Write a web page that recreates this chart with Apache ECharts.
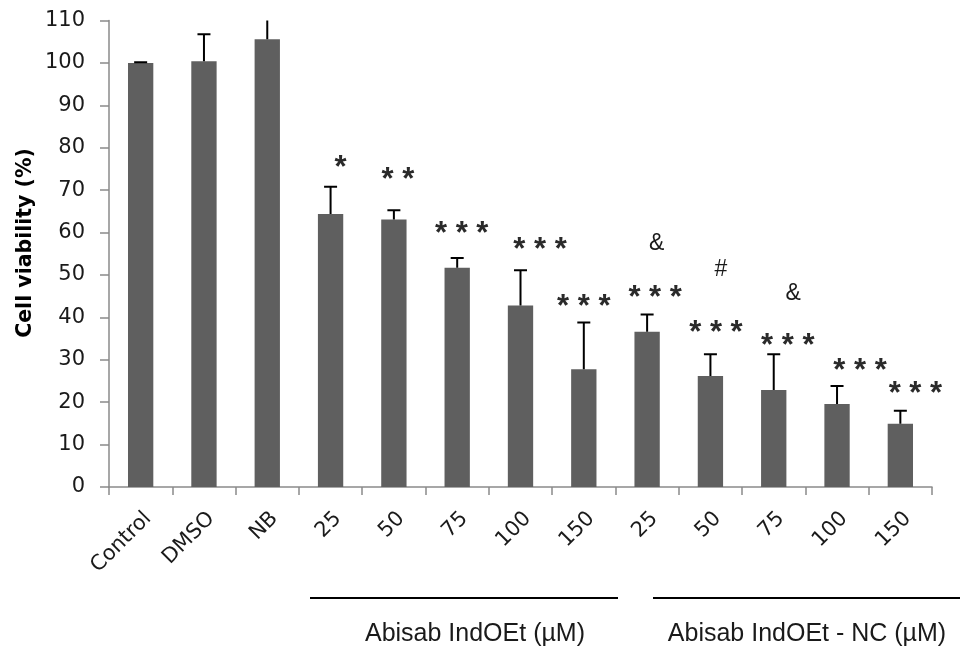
<!DOCTYPE html>
<html>
<head>
<meta charset="utf-8">
<script src="https://cdn.jsdelivr.net/npm/echarts@6/dist/echarts.min.js"></script>
<style>
  html, body { margin: 0; padding: 0; background: #ffffff; }
  #chart { width: 960px; height: 653px; }
</style>
</head>
<body>
<div id="chart"></div>
<script>
// ---- data ----
const categories = ['Control', 'DMSO', 'NB', '25', '50', '75', '100', '150', '25', '50', '75', '100', '150'];
const viability = [100, 100.4, 105.6, 64.4, 63.1, 51.7, 42.8, 27.8, 36.6, 26.2, 22.9, 19.6, 14.9];
const viabilitySD = [0.2, 6.4, 4.8, 6.4, 2.2, 2.3, 8.3, 11.0, 4.1, 5.1, 8.4, 4.2, 3.1];
const yMin = 0;
const yMax = 110;
const yStep = 10;

// significance marks above each bar and the level (in %) they sit at
const starMarks = ['', '', '', '*', '* *', '* * *', '* * *', '* * *', '* * *', '* * *', '* * *', '* * *', '* * *'];
const starLevel = [null, null, null, 77.0, 74.1, 61.4, 57.6, 44.3, 46.3, 38.2, 35.1, 29.2, 23.7];
const extraMarks = ['', '', '', '', '', '', '', '', '&', '#', '&', '', ''];
const extraLevel = [null, null, null, null, null, null, null, null, 57.5, 51.2, 45.7, null, null];

const yAxisTitle = 'Cell viability (%)';
const groupTitles = ['Abisab IndOEt (\u00b5M)', 'Abisab IndOEt - NC (\u00b5M)'];

// ---- layout ----
const starShift = [0, 0, 0, 10, 4, 4.5, 19.5, 0, 8, 5.5, 14, 23, 15];
const extraShift = [0, 0, 0, 0, 0, 0, 0, 0, 9.5, 10.5, 19.5, 0, 0];
const axisGray = '#8a8a8a';
const barGray = '#5f5f5f';
const textDark = '#1a1a1a';

const chart = echarts.init(document.getElementById('chart'), null, { renderer: 'canvas' });

const barData = viability.map((v, i) => [i, v]);
const errData = viability.map((v, i) => [i, v, viabilitySD[i]]);
const noteData = [];
categories.forEach((c, i) => {
  if (starMarks[i]) noteData.push([i, starLevel[i], starMarks[i], starShift[i], 'star']);
  if (extraMarks[i]) noteData.push([i, extraLevel[i], extraMarks[i], extraShift[i], 'sym']);
});

chart.setOption({
  animation: false,
  backgroundColor: '#ffffff',
  grid: { left: 109, right: 28, top: 20.6, bottom: 166, containLabel: false, outerBoundsMode: 'none' },
  xAxis: {
    type: 'category',
    data: categories,
    boundaryGap: true,
    axisLine: { show: true, lineStyle: { color: axisGray, width: 1.5 } },
    axisTick: { show: true, alignWithLabel: false, length: 8, inside: false, lineStyle: { color: axisGray, width: 1.5 } },
    axisLabel: {
      interval: 0, rotate: 45, margin: 21,
      align: 'right', verticalAlign: 'top',
      fontFamily: 'DejaVu Sans', fontSize: 21, color: textDark
    },
    splitLine: { show: false }
  },
  yAxis: {
    type: 'value',
    min: yMin, max: yMax, interval: yStep,
    axisLine: { show: true, lineStyle: { color: axisGray, width: 1.5 } },
    axisTick: { show: true, length: 9, inside: false, lineStyle: { color: axisGray, width: 1.5 } },
    axisLabel: { margin: 24, fontFamily: 'DejaVu Sans', fontSize: 21, color: textDark },
    splitLine: { show: false }
  },
  series: [
    {
      type: 'bar',
      data: barData,
      barWidth: '40%',
      itemStyle: { color: barGray },
      z: 2
    },
    {
      type: 'custom',
      data: errData,
      clip: true,
      z: 3,
      renderItem(params, api) {
        const x = api.value(0);
        const v = api.value(1);
        const e = api.value(2);
        const top = api.coord([x, v + e]);
        const base = api.coord([x, v]);
        const half = 6.5;
        return {
          type: 'group',
          children: [
            { type: 'line', shape: { x1: top[0], y1: top[1], x2: base[0], y2: base[1] }, style: { stroke: '#000', lineWidth: 2 } },
            { type: 'line', shape: { x1: top[0] - half, y1: top[1], x2: top[0] + half, y2: top[1] }, style: { stroke: '#000', lineWidth: 2 } }
          ]
        };
      }
    },
    {
      type: 'custom',
      data: noteData,
      z: 4,
      renderItem(params, api) {
        const item = noteData[params.dataIndex];
        const p = api.coord([item[0], item[1]]);
        const isStar = item[4] === 'star';
        const size = isStar ? 31 : 23;
        return {
          type: 'text',
          x: p[0] + item[3],
          y: p[1] + (isStar ? size * 0.26 : 0),
          style: {
            text: item[2],
            fontFamily: 'Liberation Sans',
            fontWeight: isStar ? 'bold' : 'normal',
            fontSize: size,
            fill: isStar ? '#2a2a2a' : textDark,
            align: 'center',
            verticalAlign: 'middle'
          }
        };
      }
    }
  ],
  graphic: [
    {
      type: 'text', x: 26, y: 243, rotation: Math.PI / 2,
      style: { text: yAxisTitle, fontFamily: 'DejaVu Sans', fontWeight: 'bold', fontSize: 20.5, fill: '#000', align: 'center', verticalAlign: 'middle' }
    },
    { type: 'line', shape: { x1: 310, y1: 598, x2: 618, y2: 598 }, style: { stroke: '#000', lineWidth: 2 } },
    { type: 'line', shape: { x1: 653, y1: 598, x2: 960, y2: 598 }, style: { stroke: '#000', lineWidth: 2 } },
    {
      type: 'text', x: 475, y: 634,
      style: { text: groupTitles[0], fontFamily: 'Liberation Sans', fontSize: 25, fill: textDark, align: 'center', verticalAlign: 'middle' }
    },
    {
      type: 'text', x: 807, y: 634,
      style: { text: groupTitles[1], fontFamily: 'Liberation Sans', fontSize: 25, fill: textDark, align: 'center', verticalAlign: 'middle' }
    }
  ]
});
</script>
</body>
</html>
